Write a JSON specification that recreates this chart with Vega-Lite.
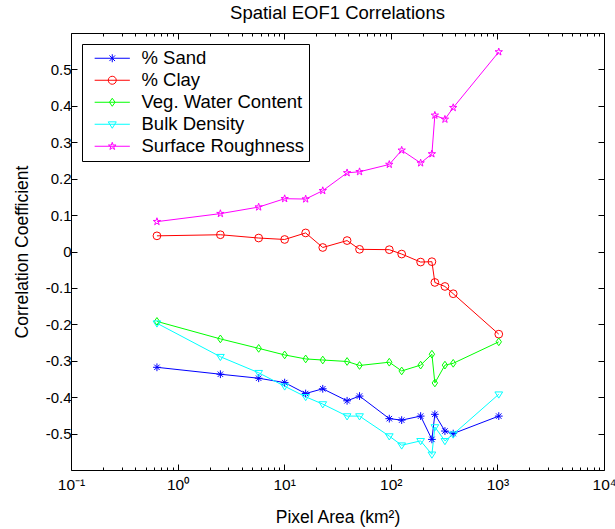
{
  "$schema": "https://vega.github.io/schema/vega-lite/v6.json",
  "autosize": {"type": "none"},
  "width": 533,
  "height": 437,
  "padding": {"left": 71, "top": 33, "right": 11, "bottom": 59},
  "background": "white",
  "title": {"text": "Spatial EOF1 Correlations", "fontSize": 18.5, "fontWeight": "normal", "font": "Liberation Sans", "color": "#000", "offset": 10, "anchor": "middle"},
  "config": {
    "font": "Liberation Sans",
    "view": {"stroke": "#000", "strokeWidth": 1},
    "axis": {"domain": false, "grid": false, "tickColor": "#000", "labelColor": "#000", "titleColor": "#000", "labelFont": "Liberation Sans", "titleFont": "Liberation Sans", "titleFontWeight": "normal"}
  },
  "data": {"values": [
    {"s": "% Sand", "a": 0.64, "r": -0.318}, {"s": "% Sand", "a": 2.52, "r": -0.337}, {"s": "% Sand", "a": 5.76, "r": -0.348}, {"s": "% Sand", "a": 10.1, "r": -0.36}, {"s": "% Sand", "a": 15.9, "r": -0.39}, {"s": "% Sand", "a": 23, "r": -0.377}, {"s": "% Sand", "a": 38.9, "r": -0.41}, {"s": "% Sand", "a": 50.9, "r": -0.397}, {"s": "% Sand", "a": 96.8, "r": -0.459}, {"s": "% Sand", "a": 126.5, "r": -0.463}, {"s": "% Sand", "a": 190.5, "r": -0.452}, {"s": "% Sand", "a": 243, "r": -0.516}, {"s": "% Sand", "a": 259, "r": -0.447}, {"s": "% Sand", "a": 322, "r": -0.493}, {"s": "% Sand", "a": 385, "r": -0.5}, {"s": "% Sand", "a": 1030, "r": -0.452},
    {"s": "% Clay", "a": 0.64, "r": 0.043}, {"s": "% Clay", "a": 2.52, "r": 0.046}, {"s": "% Clay", "a": 5.76, "r": 0.037}, {"s": "% Clay", "a": 10.1, "r": 0.033}, {"s": "% Clay", "a": 15.9, "r": 0.051}, {"s": "% Clay", "a": 23, "r": 0.011}, {"s": "% Clay", "a": 38.9, "r": 0.03}, {"s": "% Clay", "a": 50.9, "r": 0.006}, {"s": "% Clay", "a": 96.8, "r": 0.005}, {"s": "% Clay", "a": 126.5, "r": -0.007}, {"s": "% Clay", "a": 190.5, "r": -0.029}, {"s": "% Clay", "a": 243, "r": -0.028}, {"s": "% Clay", "a": 259, "r": -0.085}, {"s": "% Clay", "a": 322, "r": -0.096}, {"s": "% Clay", "a": 385, "r": -0.116}, {"s": "% Clay", "a": 1030, "r": -0.227},
    {"s": "Veg. Water Content", "a": 0.64, "r": -0.192}, {"s": "Veg. Water Content", "a": 2.52, "r": -0.24}, {"s": "Veg. Water Content", "a": 5.76, "r": -0.266}, {"s": "Veg. Water Content", "a": 10.1, "r": -0.284}, {"s": "Veg. Water Content", "a": 15.9, "r": -0.295}, {"s": "Veg. Water Content", "a": 23, "r": -0.298}, {"s": "Veg. Water Content", "a": 38.9, "r": -0.302}, {"s": "Veg. Water Content", "a": 50.9, "r": -0.313}, {"s": "Veg. Water Content", "a": 96.8, "r": -0.304}, {"s": "Veg. Water Content", "a": 126.5, "r": -0.328}, {"s": "Veg. Water Content", "a": 190.5, "r": -0.312}, {"s": "Veg. Water Content", "a": 243, "r": -0.282}, {"s": "Veg. Water Content", "a": 259, "r": -0.361}, {"s": "Veg. Water Content", "a": 322, "r": -0.312}, {"s": "Veg. Water Content", "a": 385, "r": -0.307}, {"s": "Veg. Water Content", "a": 1030, "r": -0.248},
    {"s": "Bulk Density", "a": 0.64, "r": -0.197}, {"s": "Bulk Density", "a": 2.52, "r": -0.289}, {"s": "Bulk Density", "a": 5.76, "r": -0.333}, {"s": "Bulk Density", "a": 10.1, "r": -0.37}, {"s": "Bulk Density", "a": 15.9, "r": -0.399}, {"s": "Bulk Density", "a": 23, "r": -0.419}, {"s": "Bulk Density", "a": 38.9, "r": -0.452}, {"s": "Bulk Density", "a": 50.9, "r": -0.452}, {"s": "Bulk Density", "a": 96.8, "r": -0.507}, {"s": "Bulk Density", "a": 126.5, "r": -0.532}, {"s": "Bulk Density", "a": 190.5, "r": -0.52}, {"s": "Bulk Density", "a": 243, "r": -0.557}, {"s": "Bulk Density", "a": 259, "r": -0.482}, {"s": "Bulk Density", "a": 322, "r": -0.52}, {"s": "Bulk Density", "a": 385, "r": -0.502}, {"s": "Bulk Density", "a": 1030, "r": -0.392},
    {"s": "Surface Roughness", "a": 0.64, "r": 0.082}, {"s": "Surface Roughness", "a": 2.52, "r": 0.104}, {"s": "Surface Roughness", "a": 5.76, "r": 0.122}, {"s": "Surface Roughness", "a": 10.1, "r": 0.145}, {"s": "Surface Roughness", "a": 15.9, "r": 0.144}, {"s": "Surface Roughness", "a": 23, "r": 0.167}, {"s": "Surface Roughness", "a": 38.9, "r": 0.216}, {"s": "Surface Roughness", "a": 50.9, "r": 0.219}, {"s": "Surface Roughness", "a": 96.8, "r": 0.239}, {"s": "Surface Roughness", "a": 126.5, "r": 0.278}, {"s": "Surface Roughness", "a": 190.5, "r": 0.243}, {"s": "Surface Roughness", "a": 243, "r": 0.268}, {"s": "Surface Roughness", "a": 259, "r": 0.374}, {"s": "Surface Roughness", "a": 322, "r": 0.363}, {"s": "Surface Roughness", "a": 385, "r": 0.395}, {"s": "Surface Roughness", "a": 1030, "r": 0.548}
  ]},
  "resolve": {"axis": {"x": "independent", "y": "independent"}, "scale": {"color": "independent"}, "legend": {"color": "independent"}},
  "layer": [
    {
      "mark": {"type": "line", "strokeWidth": 1, "clip": true},
      "encoding": {
        "x": {"field": "a", "type": "quantitative",
          "scale": {"type": "log", "domain": [0.1, 10000], "nice": false},
          "axis": {"orient": "bottom", "title": "Pixel Area (km²)", "titleFontSize": 17.5, "titlePadding": 13,
            "values": [0.1,0.2,0.3,0.4,0.5,0.6,0.7,0.8,0.9,1,2,3,4,5,6,7,8,9,10,20,30,40,50,60,70,80,90,100,200,300,400,500,600,700,800,900,1000,2000,3000,4000,5000,6000,7000,8000,9000,10000],
            "labelExpr": "['10⁻¹','10⁰','10¹','10²','10³','10⁴'][indexof([0.1,1,10,100,1000,10000], datum.value)] || ''",
            "labelFontSize": 15.5, "labelOverlap": false, "labelFlush": false, "labelPadding": 13,
            "tickSize": {"condition": {"test": "indexof([0.1,1,10,100,1000,10000], datum.value) >= 0", "value": -6}, "value": -3}}},
        "y": {"field": "r", "type": "quantitative",
          "scale": {"domain": [-0.6, 0.6], "nice": false, "zero": false},
          "axis": {"orient": "left", "title": "Correlation Coefficient", "titleFontSize": 17.5, "titlePadding": 14,
            "values": [-0.5,-0.4,-0.3,-0.2,-0.1,0,0.1,0.2,0.3,0.4,0.5],
            "labelExpr": "datum.value == 0 ? '0' : (datum.value < 0 ? '-' : '') + format(abs(datum.value), '.1f')",
            "labelFontSize": 15, "labelPadding": 6, "tickSize": -6}},
        "color": {"field": "s", "type": "nominal",
          "scale": {"domain": ["% Sand", "% Clay", "Veg. Water Content", "Bulk Density", "Surface Roughness"], "range": ["#0000ff", "#ff0000", "#00ff00", "#00ffff", "#ff00ff"]},
          "legend": {"title": null, "orient": "top-left", "offset": 11, "padding": 5, "strokeColor": "#000", "fillColor": "#fff",
            "labelFontSize": 18.5, "labelColor": "#000", "labelLimit": 400, "symbolSize": 64, "symbolStrokeWidth": 1, "symbolOffset": 16, "labelOffset": 20, "rowPadding": 3,
            "labelExpr": "datum.label + '      '",
            "encode": {"symbols": {"update": {"fill": {"value": "transparent"},
              "shape": {"signal": "datum.value === '% Sand' ? 'M-4.4,0L4.4,0M0,-1L0,1M-0.7,-0.7L0.7,0.7M-0.7,0.7L0.7,-0.7' : datum.value === '% Clay' ? 'M-4.4,0L4.4,0M1,0A1,1 0 1 1 -1,0A1,1 0 1 1 1,0' : datum.value === 'Veg. Water Content' ? 'M-4.4,0L4.4,0M0,-1L0.7,0L0,1L-0.7,0Z' : datum.value === 'Bulk Density' ? 'M-4.4,0L4.4,0M-1,-0.6L1,-0.6L0,1Z' : 'M-4.4,0L4.4,0M0,-1L0.225,-0.309L0.951,-0.309L0.363,0.118L0.588,0.809L0,0.382L-0.588,0.809L-0.363,0.118L-0.951,-0.309L-0.225,-0.309Z'"}}}}}}
      }
    },
    {
      "mark": {"type": "point", "filled": false, "strokeWidth": 1, "size": 60, "opacity": 1},
      "encoding": {
        "x": {"field": "a", "type": "quantitative",
          "axis": {"orient": "top", "title": null, "labels": false,
            "values": [0.1,0.2,0.3,0.4,0.5,0.6,0.7,0.8,0.9,1,2,3,4,5,6,7,8,9,10,20,30,40,50,60,70,80,90,100,200,300,400,500,600,700,800,900,1000,2000,3000,4000,5000,6000,7000,8000,9000,10000],
            "tickSize": {"condition": {"test": "indexof([0.1,1,10,100,1000,10000], datum.value) >= 0", "value": -6}, "value": -3}}},
        "y": {"field": "r", "type": "quantitative",
          "axis": {"orient": "right", "title": null, "labels": false, "values": [-0.5,-0.4,-0.3,-0.2,-0.1,0,0.1,0.2,0.3,0.4,0.5], "tickSize": -6}},
        "color": {"field": "s", "type": "nominal", "legend": null,
          "scale": {"domain": ["% Sand", "% Clay", "Veg. Water Content", "Bulk Density", "Surface Roughness"], "range": ["#0000ff", "#ff0000", "#00ff00", "#00ffff", "#ff00ff"]}},
        "shape": {"field": "s", "type": "nominal", "legend": null,
          "scale": {"domain": ["% Sand", "% Clay", "Veg. Water Content", "Bulk Density", "Surface Roughness"],
            "range": ["M-1,0L1,0M0,-1L0,1M-0.7,-0.7L0.7,0.7M-0.7,0.7L0.7,-0.7", "circle", "M0,-1L0.7,0L0,1L-0.7,0Z", "M-1,-0.6L1,-0.6L0,1Z", "M0,-1L0.225,-0.309L0.951,-0.309L0.363,0.118L0.588,0.809L0,0.382L-0.588,0.809L-0.363,0.118L-0.951,-0.309L-0.225,-0.309Z"]}}
      }
    }
  ]
}
